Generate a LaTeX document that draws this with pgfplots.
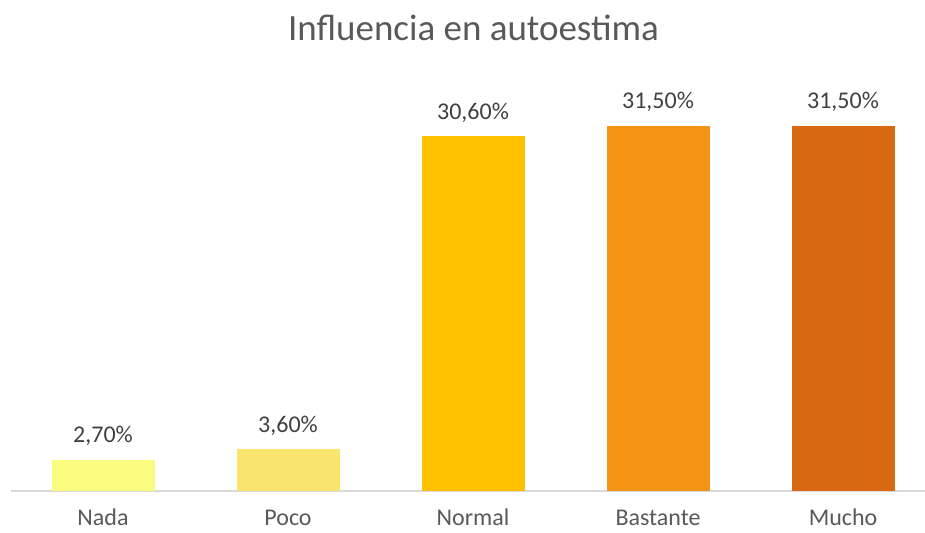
\documentclass[border=0pt]{standalone}
\usepackage{fontspec}
\setmainfont{Carlito}
\usepackage{pgfplots}
\pgfplotsset{compat=1.18}
\definecolor{cNada}{RGB}{250,252,128}
\definecolor{cPoco}{RGB}{249,228,108}
\definecolor{cNormal}{RGB}{255,192,0}
\definecolor{cBastante}{RGB}{244,148,20}
\definecolor{cMucho}{RGB}{216,104,18}
\definecolor{axisgray}{RGB}{217,217,217}
\definecolor{labgray}{RGB}{89,89,89}
\definecolor{valgray}{RGB}{64,64,64}
\begin{document}
\begin{tikzpicture}
\useasboundingbox (-7.875pt,-31pt) rectangle (685.9pt,368.25pt);
\begin{axis}[
  at={(0pt,0pt)}, anchor=south west,
  scale only axis,
  width=685.9pt, height=273.75pt,
  xmin=-0.5, xmax=4.443,
  ymin=0, ymax=31.5,
  clip=false,
  axis x line*=bottom,
  axis y line=none,
  x axis line style={draw=axisgray, line width=1.5pt, -},
  xtick={0,1,2,3,4},
  xticklabels={Nada,Poco,Normal,Bastante,Mucho},
  major tick length=0pt,
  xticklabel style={anchor=base, yshift=-26pt, font=\fontsize{18}{20}\selectfont, text=labgray, inner sep=0pt},
  ybar, bar width=77.25pt, bar shift=0pt,
  nodes near coords={\pgfmathprintnumber[fixed,fixed zerofill,precision=2,use comma,assume math mode=true]{\pgfplotspointmeta}\%},
  every node near coord/.append style={anchor=base, yshift=12.75pt, font=\fontsize{18}{20}\selectfont, text=valgray, inner sep=0pt},
  point meta=y,
]
\addplot[fill=cNada, draw=none] coordinates {(0,2.7)};
\addplot[fill=cPoco, draw=none] coordinates {(1,3.6)};
\addplot[fill=cNormal, draw=none] coordinates {(2,30.6)};
\addplot[fill=cBastante, draw=none] coordinates {(3,31.5)};
\addplot[fill=cMucho, draw=none] coordinates {(4,31.5)};
\end{axis}
\node[anchor=base, inner sep=0pt, text=labgray, font=\fontsize{27.75}{30}\selectfont] at (347.25pt,337.5pt) {Influencia en autoestima};
\end{tikzpicture}
\end{document}
